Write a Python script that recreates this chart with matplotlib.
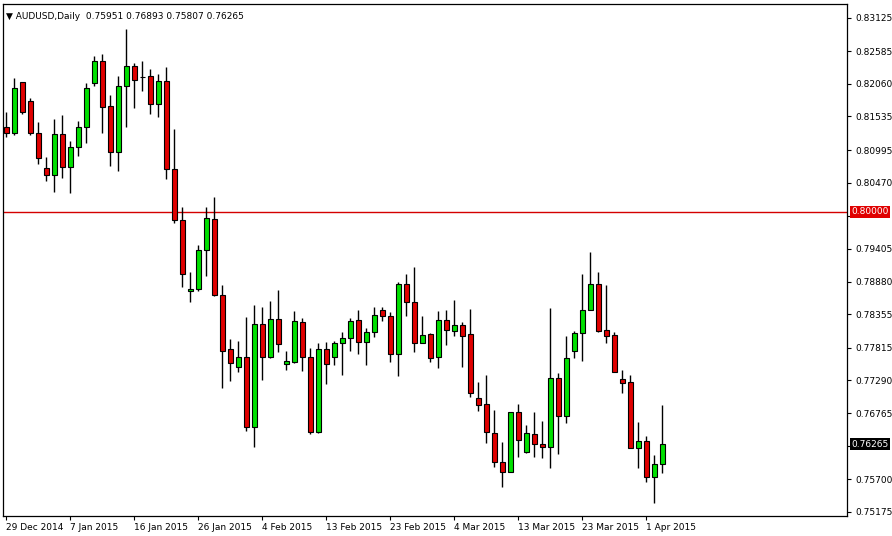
import matplotlib
matplotlib.use("Agg")
import matplotlib.pyplot as plt
from matplotlib.patches import Rectangle

opens = [0.81366,0.81269,0.82089,0.81784,0.81269,0.80707,0.80594,0.81253,0.80723,0.81044,
         0.81366,0.82073,0.82427,0.81704,0.80964,0.82025,0.82347,0.82170,0.82186,0.81736,
         0.82106,0.80691,0.79870,0.78729,0.78761,0.79388,0.79887,0.78664,0.77796,0.77507,
         0.77667,0.76542,0.78198,0.77667,0.78279,0.77555,0.77587,0.78230,0.77667,0.76461,
         0.77796,0.77667,0.77893,0.77973,0.78262,0.77909,0.78069,0.78423,0.78327,0.77716,
         0.78841,0.78552,0.77893,0.78037,0.77667,0.78262,0.78086,0.78182,0.78037,0.77008,
         0.76912,0.76445,0.75979,0.75818,0.76783,0.76140,0.76429,0.76269,0.76220,0.77330,
         0.76719,0.77764,0.78053,0.78423,0.78841,0.78102,0.78021,0.77314,0.77265,0.76204,
         0.76317,0.75738,0.75951]
highs = [0.81607,0.82154,0.82089,0.81832,0.81446,0.80883,0.81494,0.81559,0.81141,0.81462,
         0.82073,0.82508,0.82540,0.81880,0.82186,0.82942,0.82395,0.82427,0.82299,0.82218,
         0.82331,0.81334,0.80079,0.79034,0.79468,0.80079,0.80240,0.78825,0.77957,0.77925,
         0.78311,0.78504,0.78471,0.78568,0.78745,0.77764,0.78407,0.78295,0.77812,0.77893,
         0.77909,0.77925,0.78069,0.78295,0.78423,0.78134,0.78471,0.78471,0.78391,0.78873,
         0.79002,0.79115,0.78327,0.78053,0.78407,0.78423,0.78584,0.78230,0.78439,0.77265,
         0.77378,0.76815,0.76301,0.77282,0.76912,0.76574,0.76783,0.76638,0.78455,0.77410,
         0.78005,0.78086,0.79002,0.79356,0.79034,0.78825,0.78069,0.77458,0.77378,0.76622,
         0.76397,0.76092,0.76893]
lows = [0.81205,0.81237,0.81575,0.81237,0.80771,0.80498,0.80321,0.80546,0.80305,0.80900,
        0.81109,0.82025,0.81269,0.80739,0.80658,0.81366,0.81671,0.81945,0.81575,0.81527,
        0.80530,0.79822,0.78793,0.78552,0.78729,0.78970,0.78648,0.77169,0.77282,0.77426,
        0.76478,0.76220,0.77298,0.77651,0.77748,0.77458,0.77571,0.77442,0.76429,0.76445,
        0.77233,0.77539,0.77378,0.77764,0.77716,0.77539,0.77989,0.78246,0.77587,0.77362,
        0.78327,0.77748,0.77893,0.77587,0.77491,0.77860,0.78005,0.77507,0.77024,0.76799,
        0.76285,0.75899,0.75577,0.77282,0.76059,0.76124,0.76059,0.76043,0.75883,0.76108,
        0.76606,0.77651,0.77603,0.78841,0.78069,0.77893,0.77426,0.77089,0.76204,0.75883,
        0.75657,0.75320,0.75807]
closes = [0.81269,0.81993,0.81607,0.81269,0.80867,0.80594,0.81253,0.80723,0.81044,0.81366,
          0.81993,0.82427,0.81687,0.80964,0.82025,0.82347,0.82122,0.82165,0.81736,0.82106,
          0.80691,0.79870,0.79002,0.78761,0.79388,0.79903,0.78664,0.77764,0.77571,0.77667,
          0.76542,0.78198,0.77667,0.78279,0.77876,0.77603,0.78246,0.77667,0.76461,0.77796,
          0.77555,0.77893,0.77973,0.78246,0.77909,0.78069,0.78343,0.78327,0.77716,0.78841,
          0.78552,0.77893,0.78021,0.77651,0.78262,0.78102,0.78182,0.78005,0.77089,0.76896,
          0.76461,0.75979,0.75818,0.76783,0.76333,0.76445,0.76269,0.76220,0.77330,0.76719,
          0.77651,0.78053,0.78423,0.78841,0.78086,0.78005,0.77426,0.77249,0.76204,0.76317,
          0.75738,0.75947,0.76265]
date_labels = ["29 Dec 2014","7 Jan 2015","16 Jan 2015","26 Jan 2015","4 Feb 2015","13 Feb 2015",
               "23 Feb 2015","4 Mar 2015","13 Mar 2015","23 Mar 2015","1 Apr 2015"]
date_idx = [0,8,16,24,32,40,48,56,64,72,80]
price_ticks = [0.83125,0.82585,0.82060,0.81535,0.80995,0.80470,0.79940,0.79405,0.78880,
               0.78355,0.77815,0.77290,0.76765,0.76240,0.75700,0.75175]
hidden_ticks = [0.79940, 0.76240]
level = 0.80000
last_price = 0.76265
header = "AUDUSD,Daily  0.75951 0.76893 0.75807 0.76265"

fig = plt.figure(figsize=(8.92,5.36), dpi=100)
ax = fig.add_axes([3/892, 1-516/536, 844/892, 512/536])
ax.set_xlim(-0.4, 105.1)
ax.set_ylim(0.75109, 0.83344)

up_c, dn_c = "#00e000", "#e00000"
for i,(o,h,l,c) in enumerate(zip(opens,highs,lows,closes)):
    ax.vlines(i, l, h, color="black", lw=1.0, zorder=1)
    lo, hi = min(o,c), max(o,c)
    col = up_c if c >= o else dn_c
    if hi - lo < 0.00004:
        ax.hlines(o, i-0.35, i+0.35, color="black", lw=1.0, zorder=2)
    else:
        ax.add_patch(Rectangle((i-0.32, lo), 0.64, hi-lo, facecolor=col,
                               edgecolor="black", lw=0.8, zorder=2))

ax.axhline(level, color="#d40000", lw=1.0, zorder=0)

ax.yaxis.tick_right()
ax.set_yticks(price_ticks)
ax.set_yticklabels(["" if v in hidden_ticks else f"{v:.5f}" for v in price_ticks], fontsize=6.5)
ax.tick_params(axis="y", length=3, pad=3, width=0.8)
ax.set_xticks(date_idx)
ax.set_xticklabels(date_labels, fontsize=6.5, ha="left")
ax.tick_params(axis="x", length=3, pad=2, width=0.8)
for sp in ax.spines.values():
    sp.set_linewidth(0.9)

ax.text(105.1+0.55, level, "0.80000", fontsize=6.5,
        color="white", va="center", ha="left", clip_on=False,
        bbox=dict(boxstyle="square,pad=0.15", fc="#e00000", ec="none"))
ax.text(105.1+0.55, last_price, f"{last_price:.5f}", fontsize=6.5, color="white",
        va="center", ha="left", clip_on=False,
        bbox=dict(boxstyle="square,pad=0.15", fc="black", ec="none"))
ax.text(0.003, 0.985, "\u25bc " + header, transform=ax.transAxes, fontsize=6.5,
        va="top", ha="left")

fig.savefig("out.png", dpi=100)
